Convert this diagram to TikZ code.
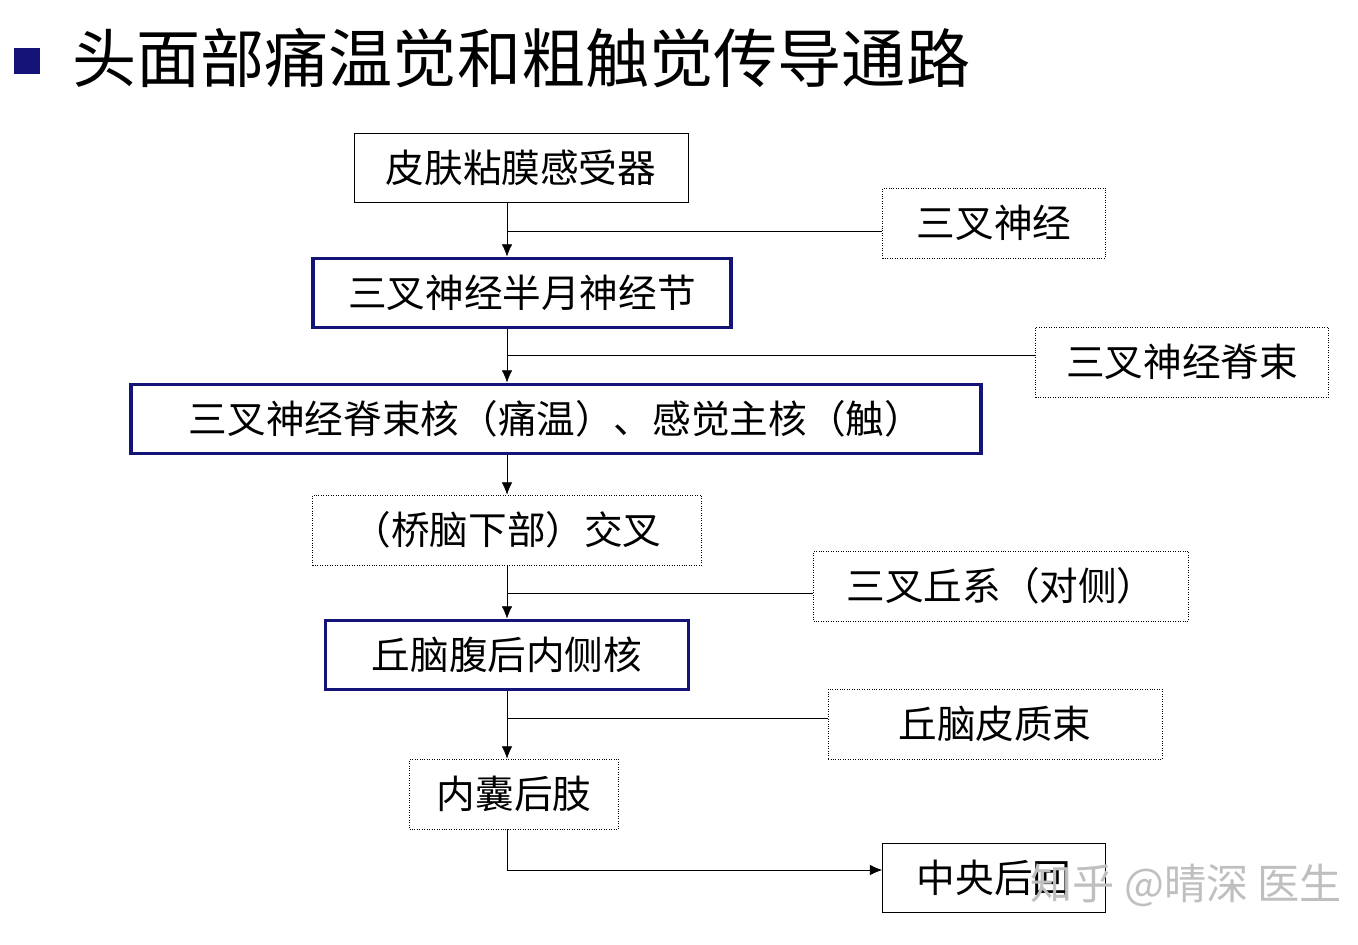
\documentclass[tikz,border=0pt]{standalone}
\usepackage{fontspec}
\setmainfont{Noto Sans CJK SC}
\usetikzlibrary{arrows.meta, positioning}
\definecolor{navy}{RGB}{20,20,120}

\begin{document}
\begin{tikzpicture}[
  x=0.02cm, y=-0.02cm,
  >={Latex[length=7pt,width=6pt]},
  every node/.style={inner sep=0pt, font=\fontsize{22}{24}\selectfont},
  plain/.style={draw, thin, minimum height=1.38cm},
  dotbox/.style={draw, densely dotted, minimum height=1.4cm},
  keybox/.style={draw=navy, line width=2.2pt, minimum height=1.38cm}
]
  \useasboundingbox (0,0) rectangle (1358,944);

  % title
  \fill[navy] (14,48) rectangle (40,74);
  \node[anchor=west, font=\fontsize{36.5}{38}\selectfont] (title) at (72,58) {头面部痛温觉和粗触觉传导通路};

  % main chain
  \node[plain, minimum width=6.68cm]  (skin)   at (521,168) {皮肤粘膜感受器};
  \node[keybox, minimum width=8.36cm] (gang)   at (522,293) {三叉神经半月神经节};
  \node[keybox, minimum width=17cm]   (nuc)    at (556,419) {三叉神经脊束核（痛温）、感觉主核（触）};
  \node[dotbox, minimum width=7.78cm] (cross)  at (507,530) {（桥脑下部）交叉};
  \node[keybox, minimum width=7.26cm] (vpm)    at (507,655) {丘脑腹后内侧核};
  \node[dotbox, minimum width=4.18cm] (capsule) at (514,794) {内囊后肢};
  \node[plain, minimum width=4.46cm]  (cortex) at (994,878) {中央后回};

  % side labels
  \node[dotbox, minimum width=4.46cm] (nerve)  at (994,223)  {三叉神经};
  \node[dotbox, minimum width=5.86cm] (tract)  at (1182,362) {三叉神经脊束};
  \node[dotbox, minimum width=7.5cm]  (lemn)   at (1001,586) {三叉丘系（对侧）};
  \node[dotbox, minimum width=6.68cm] (thal)   at (995,724)  {丘脑皮质束};

  % connectors
  \coordinate (j1) at (507,231);
  \coordinate (j2) at (507,355);
  \coordinate (j3) at (507,593);
  \coordinate (j4) at (507,718);
  \coordinate (j5) at (507,870);
  \draw[->] (skin.south -| j1) -- (gang.north -| j1);
  \draw (j1) -- (nerve.west |- j1);
  \draw[->] (gang.south -| j2) -- (nuc.north -| j2);
  \draw (j2) -- (tract.west |- j2);
  \draw[->] (nuc.south -| j2) -- (cross.north -| j2);
  \draw[->] (cross.south -| j3) -- (vpm.north -| j3);
  \draw (j3) -- (lemn.west |- j3);
  \draw[->] (vpm.south -| j4) -- (capsule.north -| j4);
  \draw (j4) -- (thal.west |- j4);
  \draw[->] (capsule.south -| j5) -- (j5) -- (cortex.west |- j5);

  % watermark
  \node[anchor=west, text=black!25, font=\fontsize{24}{26}\selectfont] (mark) at (1030,885) {知乎 @晴深 医生};
\end{tikzpicture}
\end{document}
